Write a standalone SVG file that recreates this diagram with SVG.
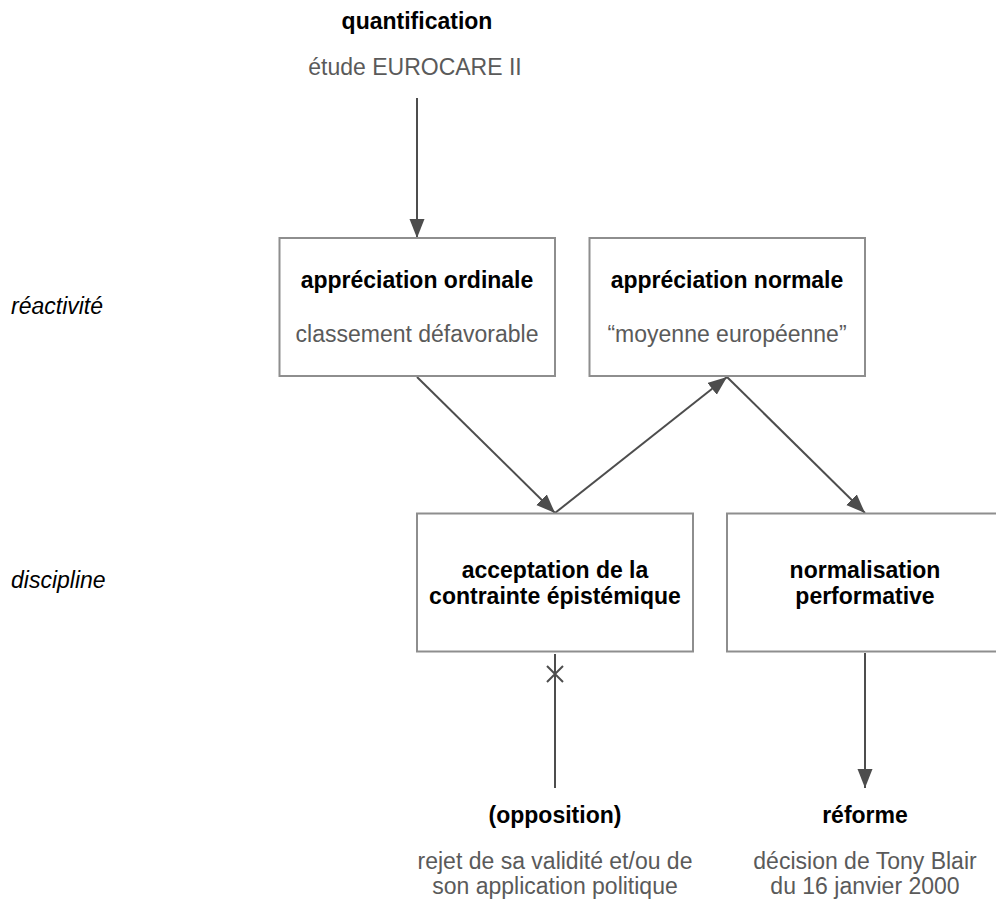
<svg xmlns="http://www.w3.org/2000/svg" width="996" height="901" viewBox="0 0 996 901">
<style>
text{font-family:"Liberation Sans",Arial,Helvetica,sans-serif;font-size:23px;text-anchor:middle}
.b{font-weight:bold;fill:#000}
.s{fill:#5a5a5a}
.i{font-style:italic;fill:#000;text-anchor:start}
.box{fill:#fff;stroke:#8e8e8e;stroke-width:2}
.c{stroke:#4d4d4d;stroke-width:2;fill:none}
</style>
<defs>
<marker id="ah" markerUnits="userSpaceOnUse" markerWidth="22" markerHeight="18" refX="19" refY="7.5" orient="auto">
<path d="M0,0 L19,7.5 L0,15 z" fill="#4d4d4d"/>
</marker>
</defs>
<rect width="996" height="901" fill="#fff"/>
<g id="labels">
<text class="i" x="11" y="314">réactivité</text>
<text class="i" x="11" y="588">discipline</text>
</g>
<g id="connectors">
<line class="c" x1="417" y1="98" x2="417" y2="238" marker-end="url(#ah)"/>
<line class="c" x1="417" y1="377" x2="555" y2="513" marker-end="url(#ah)"/>
<line class="c" x1="555" y1="513" x2="727" y2="377" marker-end="url(#ah)"/>
<line class="c" x1="727" y1="377" x2="865" y2="513" marker-end="url(#ah)"/>
<line class="c" x1="865" y1="653" x2="865" y2="788" marker-end="url(#ah)"/>
<line class="c" x1="555" y1="654" x2="555" y2="788"/>
<path class="c" d="M547,666 L563,682 M563,666 L547,682" stroke-width="1.5"/>
</g>
<g id="quantification">
<text class="b" x="417" y="29">quantification</text>
<text class="s" x="415" y="75">étude EUROCARE II</text>
</g>
<g id="appreciation-ordinale">
<rect class="box" x="279.5" y="238" width="275.5" height="138"/>
<text class="b" x="417" y="288">appréciation ordinale</text>
<text class="s" x="417" y="342">classement défavorable</text>
</g>
<g id="appreciation-normale">
<rect class="box" x="589.5" y="238" width="275.5" height="138"/>
<text class="b" x="727" y="288">appréciation normale</text>
<text class="s" x="727" y="342">“moyenne européenne”</text>
</g>
<g id="acceptation">
<rect class="box" x="417" y="513.5" width="276" height="138"/>
<text class="b" x="555" y="578">acceptation de la</text>
<text class="b" x="555" y="604">contrainte épistémique</text>
</g>
<g id="normalisation">
<rect class="box" x="727" y="513.5" width="276" height="138"/>
<text class="b" x="865" y="578">normalisation</text>
<text class="b" x="865" y="604">performative</text>
</g>
<g id="opposition">
<text class="b" x="555" y="823">(opposition)</text>
<text class="s" x="555" y="869">rejet de sa validité et/ou de</text>
<text class="s" x="555" y="894">son application politique</text>
</g>
<g id="reforme">
<text class="b" x="865" y="823">réforme</text>
<text class="s" x="865" y="869">décision de Tony Blair</text>
<text class="s" x="865" y="894">du 16 janvier 2000</text>
</g>
</svg>
